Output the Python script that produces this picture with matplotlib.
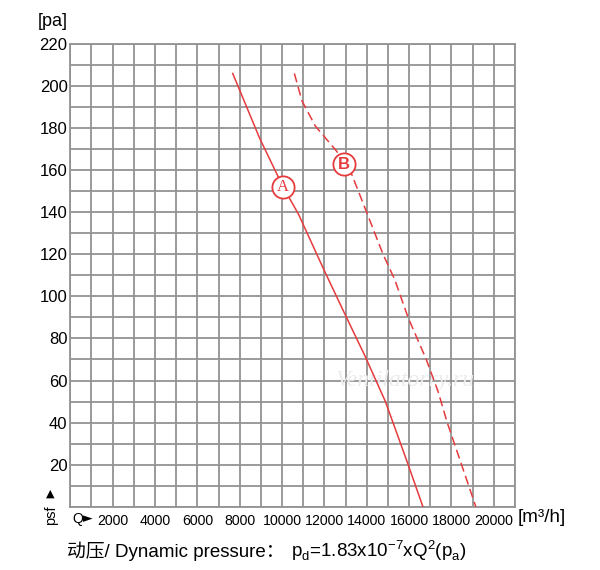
import matplotlib.pyplot as plt
import numpy as np

# curve A (solid) and curve B (dashed): airflow [m3/h] vs static pressure [Pa]
q_a = [7670, 8950, 10050, 10780, 11960, 12900, 13900, 14880, 15920, 16650]
p_a = [206, 175, 152, 139, 113, 93, 72, 50, 21, 0]

q_b = [10580, 10940, 11570, 12580, 13290, 13760, 14770, 15320, 15950, 16810, 17360, 17800, 18340, 19150]
p_b = [206, 193, 181, 169, 158, 146, 120, 108, 90, 70, 55, 40, 24, 0]

# curve tags
tag_names = ['A', 'B']
tag_q = [10050, 12930]
tag_p = [152, 163]

x_ticks = list(range(2000, 20001, 2000))
y_ticks = list(range(20, 221, 20))

RED = '#e63b3e'
GRID = '#939393'
W, H = 600, 570

def fx(px):
    return px / W

def fy(py):
    return 1 - py / H

plt.rcParams['font.family'] = ['Liberation Sans', 'DejaVu Sans']

fig = plt.figure(figsize=(6, 5.7), dpi=100)
ax = fig.add_axes([fx(70.3), fy(506.7), (515 - 70.3) / W, (506.7 - 44) / H])
ax.set_xlim(0, 21000)
ax.set_ylim(0, 220)

ax.set_xticks(x_ticks)
ax.set_xticks(range(0, 21001, 1000), minor=True)
ax.set_yticks(y_ticks)
ax.set_yticks(range(0, 221, 10), minor=True)
ax.grid(True, which='both', color=GRID, lw=1.3)
ax.set_axisbelow(True)
ax.tick_params(which='both', length=0)
ax.tick_params(axis='y', labelsize=12, pad=2)
ax.tick_params(axis='x', labelsize=10.2, pad=5)
for s in ax.spines.values():
    s.set_color(GRID)
    s.set_linewidth(1.3)

ax.plot(q_a, p_a, color=RED, lw=1.1, zorder=3)
ax.plot(q_b, p_b, color=RED, lw=1.1, dashes=(6, 3), zorder=3)

for name, q, p in zip(tag_names, tag_q, tag_p):
    ax.plot(q, p, 'o', ms=16, mfc='white', mec=RED, mew=1.3, zorder=4)
    if name == 'A':
        ax.text(q, p, name, color=RED, fontsize=12, family='Liberation Serif',
                ha='center', va='center', zorder=5)
    else:
        ax.text(q, p - 0.5, name, color=RED, fontsize=12, fontweight='bold',
                ha='center', va='center', zorder=5)

# faint watermark
ax.text(15800, 60, 'Ventilatorry.ru', color='#ececec', fontsize=17, style='italic',
        family='Liberation Serif', ha='center', va='center', zorder=2)

fig.text(fx(38), fy(22), '[pa]', fontsize=13, ha='left', va='center')
fig.text(fx(518), fy(518), '[m³/h]', fontsize=13.5, ha='left', va='center')
fig.text(fx(72), fy(519), 'Q', fontsize=10.2, ha='left', va='center')
fig.text(fx(83), fy(519), '►', fontsize=9, ha='left', va='center', family='DejaVu Sans')
fig.text(fx(51), fy(515), 'psf', fontsize=10.5, rotation=90, ha='center', va='center')
fig.text(fx(50), fy(494), '▲', fontsize=8, ha='center', va='center', family='DejaVu Sans')

fig.text(fx(67), fy(551), '动压/ Dynamic pressure：', fontsize=13.5, ha='left', va='center',
         family=['Liberation Sans', 'Noto Sans CJK SC'])
fig.text(fx(291), fy(551),
         r'p$_\mathregular{d}$=1.83x10$^\mathregular{-7}$xQ$^\mathregular{2}$(p$_\mathregular{a}$)',
         fontsize=13.5, ha='left', va='center')

fig.savefig('out.png', dpi=100)
